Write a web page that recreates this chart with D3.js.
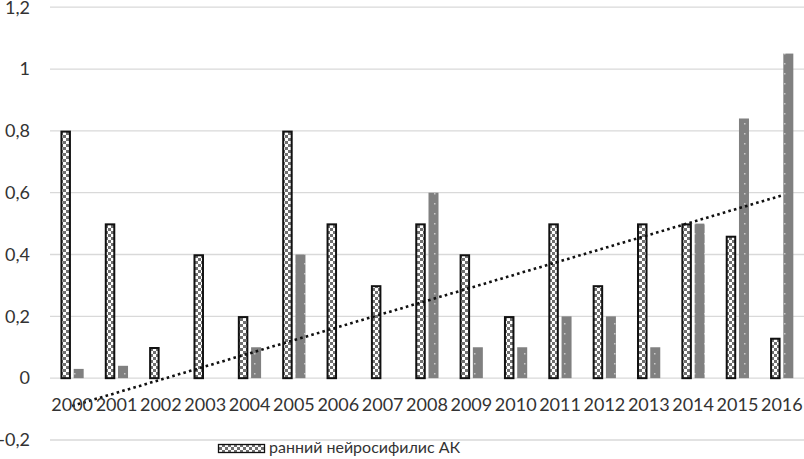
<!DOCTYPE html>
<html><head><meta charset="utf-8">
<script src="https://cdn.jsdelivr.net/npm/d3@7"></script>
<style>body{margin:0;background:#fff}svg{display:block}</style>
</head><body><svg id="c" width="804" height="459"></svg>
<script>
const years = ["2000","2001","2002","2003","2004","2005","2006","2007","2008","2009","2010","2011","2012","2013","2014","2015","2016"];
const earlyNeuro = [0.8,0.5,0.1,0.4,0.2,0.8,0.5,0.3,0.5,0.4,0.2,0.5,0.3,0.5,0.5,0.46,0.13];
const secondSeries = [0.03,0.04,0,0,0.1,0.4,0,0,0.6,0.1,0.1,0.2,0.2,0.1,0.5,0.84,1.05];
const yTicks = [-0.2,0,0.2,0.4,0.6,0.8,1,1.2];
const legendLabel = "ранний нейросифилис АК";

const svg = d3.select("#c");
const font = "Lato, 'Open Sans', sans-serif";
const textColor = "#333";
const defs = svg.append("defs");
const chk = defs.append("pattern").attr("id","chk").attr("patternUnits","userSpaceOnUse").attr("width",6).attr("height",6);
chk.append("rect").attr("width",6).attr("height",6).attr("fill","#fff");
chk.append("rect").attr("width",3).attr("height",3).attr("fill","#707070");
chk.append("rect").attr("x",3).attr("y",3).attr("width",3).attr("height",3).attr("fill","#707070");
const dots = defs.append("pattern").attr("id","dots").attr("patternUnits","userSpaceOnUse").attr("width",10).attr("height",10);
dots.append("rect").attr("width",10).attr("height",10).attr("fill","#808080");
dots.append("rect").attr("x",4).attr("y",3).attr("width",1.5).attr("height",1.5).attr("fill","#c8c8c8");

const y = d3.scaleLinear().domain([-0.2,1.2]).range([440,7.2]);
const x = d3.scaleBand().domain(years).range([50,804]).padding(0);
const inner = d3.scaleBand().domain(["a","b"]).range([-11.5,11.5]).paddingInner(0.23);
const fmt = v => String(+v.toFixed(1)).replace(".",",");

// grid
svg.append("g").selectAll("line").data(yTicks).join("line")
  .attr("x1",50).attr("x2",804).attr("y1",d=>y(d)).attr("y2",d=>y(d))
  .attr("stroke","#d9d9d9").attr("stroke-width",1.3);

// y labels
svg.append("g").selectAll("text").data(yTicks).join("text")
  .attr("x",30).attr("y",d=>y(d)).attr("dy","0.35em").attr("text-anchor","end")
  .attr("font-family",font).attr("font-size",18).attr("fill",textColor).text(fmt);

// bars
const cx = d => x(d) + x.bandwidth()/2;
svg.append("g").selectAll("rect").data(years).join("rect")
  .attr("x",(d)=>cx(d)+inner("b")).attr("width",inner.bandwidth())
  .attr("y",(d,i)=>y(secondSeries[i])).attr("height",(d,i)=>y(0)-y(secondSeries[i]))
  .attr("fill","url(#dots)");
svg.append("g").selectAll("rect").data(years).join("rect")
  .attr("x",(d)=>cx(d)+inner("a")+0.75).attr("width",inner.bandwidth()-1.5)
  .attr("y",(d,i)=>y(earlyNeuro[i])+0.75).attr("height",(d,i)=>y(0)-y(earlyNeuro[i])-0.75)
  .attr("fill","url(#chk)").attr("stroke","#111").attr("stroke-width",2);

// trendline (least squares on second series)
const n = years.length, xs = d3.range(n);
const mx = d3.mean(xs), my = d3.mean(secondSeries);
const slope = d3.sum(xs,(v,i)=>(v-mx)*(secondSeries[i]-my))/d3.sum(xs,v=>(v-mx)*(v-mx));
const icpt = my - slope*mx;
svg.append("line")
  .attr("x1",cx(years[0])).attr("y1",y(icpt))
  .attr("x2",cx(years[n-1])).attr("y2",y(icpt+slope*(n-1)))
  .attr("stroke","#111").attr("stroke-width",2.6).attr("stroke-dasharray","2.6,3.2");

// x labels
svg.append("g").selectAll("text").data(years).join("text")
  .attr("x",cx).attr("y",411).attr("text-anchor","middle")
  .attr("font-family",font).attr("font-size",18).attr("fill",textColor).text(d=>d);

// legend
svg.append("rect").attr("x",218.5).attr("y",444.5).attr("width",46).attr("height",8)
  .attr("fill","url(#chk)").attr("stroke","#111").attr("stroke-width",1.3);
svg.append("text").attr("x",269).attr("y",453).attr("font-family",font).attr("font-size",16)
  .attr("fill",textColor).text(legendLabel);
</script></body></html>
